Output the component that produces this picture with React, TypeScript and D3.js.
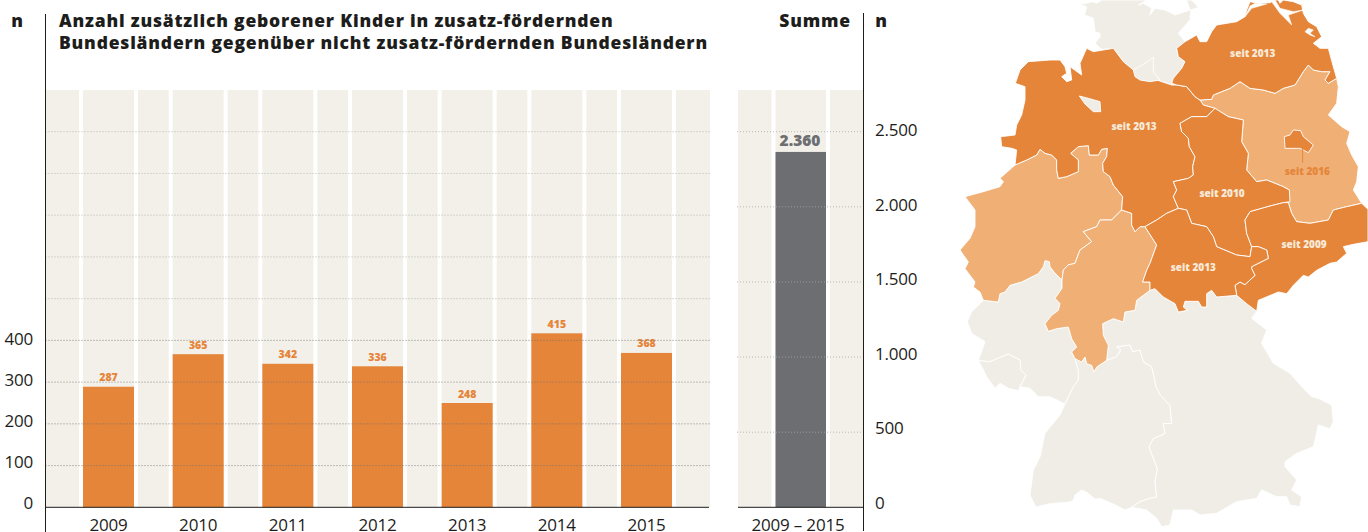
import React from "react";
import * as d3 from "d3";

const years = ["2009", "2010", "2011", "2012", "2013", "2014", "2015"];
const values = [287, 365, 342, 336, 248, 415, 368];
const leftGrid = [100, 200, 300, 400, 500, 600, 700, 800, 900];
const leftTicks = [0, 100, 200, 300, 400];
const totalLabel = "2009 – 2015";
const totalValue = 2360;
const rightTicks = [0, 500, 1000, 1500, 2000, 2500];
const titleLines = [
  "Anzahl zusätzlich geborener Kinder in zusatz-fördernden",
  "Bundesländern gegenüber nicht zusatz-fördernden Bundesländern",
];

type P = [number, number];
const schleswigHolstein: P[] = [[388,12],[410,20],[403,45],[430,55],[435,95],[450,100],[450,110],[435,130],[455,148],[490,145],[520,185],[550,210],[575,240],[620,240],[665,255],[665,250],[670,235],[695,205],[705,185],[685,170],[680,145],[705,125],[685,100],[720,60],[722,30],[745,22],[725,0],[710,0],[720,30],[675,45],[645,30],[615,25],[600,45],[605,25],[580,10],[565,15],[590,0],[455,0],[440,10],[425,5],[410,10]];
const hamburg: P[] = [[550,210],[585,190],[610,172],[610,190],[610,215],[630,240],[600,245],[570,240],[555,230]];
const mecklenburg: P[] = [[665,250],[670,235],[695,205],[705,185],[685,170],[680,145],[705,125],[740,105],[750,125],[770,125],[785,95],[800,75],[860,65],[885,50],[890,30],[900,5],[925,10],[960,8],[975,0],[985,0],[990,10],[1000,0],[1030,5],[1055,15],[1060,40],[1075,65],[1100,80],[1115,110],[1090,130],[1110,145],[1135,145],[1150,200],[1160,235],[1135,250],[1125,240],[1140,215],[1115,215],[1090,210],[1075,195],[1060,215],[1035,255],[1000,265],[975,280],[940,270],[900,265],[870,245],[840,265],[790,285],[785,298],[750,300],[735,290],[710,260],[680,255]];
const niedersachsen: P[] = [[196,250],[210,210],[235,185],[300,180],[330,180],[345,200],[350,220],[335,230],[350,245],[365,240],[360,200],[395,225],[390,190],[410,145],[430,155],[460,150],[490,145],[520,185],[550,210],[575,240],[620,240],[665,255],[680,255],[710,260],[735,290],[750,300],[760,315],[795,325],[770,350],[725,350],[690,370],[695,395],[715,415],[718,440],[735,470],[728,500],[730,525],[715,535],[670,545],[680,570],[670,590],[685,625],[650,640],[620,660],[585,680],[570,680],[555,695],[545,675],[545,640],[515,630],[518,590],[490,555],[480,530],[460,515],[458,490],[470,470],[472,445],[455,448],[445,465],[418,465],[415,437],[385,440],[362,460],[385,480],[385,515],[350,530],[325,535],[320,510],[320,480],[305,465],[285,460],[270,448],[260,465],[230,480],[195,495],[200,450],[185,445],[155,440],[152,410],[195,405],[200,375],[215,345],[225,300],[225,260]];
const bremen: P[] = [[388,288],[415,295],[450,305],[452,335],[430,335],[405,312]];
const brandenburg: P[] = [[790,285],[840,265],[870,245],[900,265],[940,270],[975,280],[1000,265],[1035,255],[1060,215],[1075,195],[1090,210],[1115,215],[1140,215],[1125,240],[1135,250],[1160,235],[1165,260],[1160,310],[1135,345],[1175,380],[1200,395],[1190,430],[1205,465],[1225,500],[1220,545],[1210,570],[1235,610],[1190,620],[1150,630],[1135,660],[1080,670],[1040,665],[1025,640],[1015,608],[1018,570],[1000,560],[950,540],[920,545],[890,510],[895,460],[875,425],[880,360],[835,350],[795,325],[760,315],[750,300],[785,298]];
const berlin: P[] = [[1003,410],[1020,405],[1030,390],[1052,392],[1060,410],[1090,435],[1075,458],[1050,445],[1005,445]];
const sachsenAnhalt: P[] = [[795,325],[835,350],[880,360],[875,425],[895,460],[890,510],[920,545],[950,540],[1000,560],[1018,570],[1020,605],[1000,608],[960,618],[900,635],[885,660],[890,700],[905,740],[900,770],[860,765],[800,740],[790,710],[770,680],[725,670],[710,630],[685,625],[670,590],[680,570],[670,545],[715,535],[730,525],[728,500],[735,470],[718,440],[715,415],[695,395],[690,370],[725,350],[770,350]];
const sachsen: P[] = [[900,635],[960,618],[1000,608],[1015,608],[1025,640],[1040,665],[1080,670],[1135,660],[1150,630],[1190,620],[1235,610],[1254,628],[1254,725],[1210,733],[1180,740],[1190,760],[1160,786],[1140,790],[1100,811],[1075,831],[1060,826],[1030,856],[1010,881],[985,876],[925,901],[920,934],[890,911],[860,886],[855,856],[870,846],[885,854],[915,826],[905,806],[905,800],[955,775],[950,750],[925,740],[905,740],[890,700],[885,660]];
const thueringen: P[] = [[685,625],[710,630],[725,670],[770,680],[790,710],[800,740],[860,765],[900,770],[905,740],[925,740],[950,750],[955,775],[905,800],[905,806],[915,826],[885,854],[870,846],[855,856],[860,886],[800,891],[785,871],[770,881],[770,921],[755,921],[745,904],[705,904],[700,921],[712,931],[685,936],[675,911],[640,891],[615,866],[600,871],[600,846],[578,846],[590,811],[600,790],[620,735],[585,680],[620,660],[650,640]];
const hessen: P[] = [[585,680],[620,735],[600,790],[590,811],[578,846],[600,846],[600,871],[560,901],[555,931],[525,936],[520,966],[490,956],[458,971],[460,1006],[475,1036],[470,1081],[440,1101],[432,1116],[425,1096],[410,1091],[405,1071],[395,1086],[375,1076],[365,1056],[380,1041],[365,1016],[355,981],[320,986],[295,994],[285,971],[305,946],[325,931],[330,911],[315,895],[336,865],[336,840],[340,810],[354,795],[375,790],[390,750],[425,725],[400,695],[440,680],[450,660],[485,660],[515,630],[545,640],[545,675],[555,695],[570,680]];
const nrw: P[] = [[195,495],[230,480],[260,465],[270,448],[285,460],[305,465],[320,480],[320,510],[325,535],[350,530],[385,515],[385,480],[362,460],[385,440],[415,437],[418,465],[445,465],[455,448],[472,445],[470,470],[458,490],[460,515],[480,530],[490,555],[518,590],[515,630],[485,660],[450,660],[440,680],[400,695],[425,725],[390,750],[375,790],[354,795],[340,810],[336,840],[315,820],[300,800],[298,785],[285,782],[280,800],[265,821],[215,846],[180,856],[165,876],[150,881],[145,906],[100,901],[90,876],[70,861],[75,846],[45,806],[55,786],[30,750],[60,715],[75,680],[75,630],[45,590],[100,575],[150,560],[160,545],[150,535]];
const rheinlandPfalz: P[] = [[285,782],[298,785],[300,800],[315,820],[336,840],[336,865],[315,895],[330,911],[325,931],[305,946],[285,971],[295,994],[320,986],[355,981],[365,1016],[380,1041],[365,1056],[375,1076],[385,1110],[385,1140],[370,1160],[345,1212],[300,1190],[265,1190],[240,1165],[210,1160],[228,1125],[212,1110],[210,1080],[175,1062],[120,1085],[85,1082],[105,1025],[65,1000],[52,965],[65,935],[100,901],[145,906],[150,881],[165,876],[180,856],[215,846],[265,821],[280,800]];
const saarland: P[] = [[85,1082],[120,1085],[175,1062],[210,1080],[212,1110],[228,1125],[210,1160],[205,1172],[175,1165],[150,1150],[135,1165],[110,1130],[95,1100]];
const badenWuerttemberg: P[] = [[345,1212],[370,1160],[385,1140],[385,1110],[375,1076],[395,1086],[405,1071],[410,1091],[425,1096],[432,1116],[440,1101],[470,1081],[500,1070],[512,1050],[500,1040],[540,1035],[548,1055],[570,1050],[580,1085],[605,1100],[612,1130],[618,1161],[632,1186],[660,1216],[665,1271],[640,1271],[645,1301],[610,1316],[597,1341],[622,1406],[615,1446],[620,1491],[600,1495],[570,1505],[545,1522],[525,1530],[490,1512],[450,1495],[435,1498],[415,1480],[395,1470],[375,1485],[370,1500],[360,1506],[300,1511],[258,1521],[240,1486],[250,1410],[270,1370],[285,1300],[330,1245]];
const bayern: P[] = [[615,866],[640,891],[675,911],[685,936],[712,931],[700,921],[705,904],[745,904],[755,921],[770,921],[770,881],[785,871],[800,891],[860,886],[890,911],[920,934],[905,955],[950,990],[935,1030],[970,1090],[1020,1120],[1060,1165],[1085,1190],[1105,1195],[1145,1215],[1150,1265],[1140,1286],[1105,1275],[1095,1320],[1090,1340],[1040,1360],[1005,1385],[1005,1400],[1040,1440],[1025,1470],[1055,1490],[1050,1520],[1020,1515],[1010,1490],[980,1490],[935,1470],[920,1495],[860,1505],[800,1540],[750,1545],[725,1530],[670,1530],[660,1575],[635,1580],[620,1555],[590,1530],[545,1522],[570,1505],[600,1495],[620,1491],[615,1446],[622,1406],[597,1341],[610,1316],[645,1301],[640,1271],[665,1271],[660,1216],[632,1186],[618,1161],[612,1130],[605,1100],[580,1085],[570,1050],[548,1055],[540,1035],[500,1040],[512,1050],[500,1070],[470,1081],[475,1036],[460,1006],[458,971],[490,956],[520,966],[525,936],[555,931],[560,901],[600,871]];
const lagoonWest: P[] = [[885,50],[905,25],[950,12],[915,10],[900,18]];
const lagoonRuegen: P[] = [[965,5],[990,40],[1025,75],[1015,45],[1060,30],[1030,35],[990,25],[975,0]];
const lagoonUsedom: P[] = [[1065,95],[1075,85],[1090,90],[1080,100],[1095,110],[1080,105]];
const mapLabels: { t: string; p: P; c: string }[] = [
  { t: "seit 2013", p: [908, 160], c: "w" },
  { t: "seit 2013", p: [552, 379], c: "w" },
  { t: "seit 2010", p: [816, 580], c: "w" },
  { t: "seit 2009", p: [1062, 733], c: "w" },
  { t: "seit 2013", p: [730, 801], c: "w" },
  { t: "seit 2016", p: [1072, 514], c: "o" },
];

const ORANGE = "#e5853a";
const LIGHT = "#f0b075";
const LAND = "#efede6";
const PANEL = "#f3f0e9";
const INK = "#1d1d1b";
const BODY = "'Open Sans', sans-serif";

const baseY = 507.3;
const yLeft = d3.scaleLinear().domain([0, 1000]).range([baseY, 90]);
const yRight = d3.scaleLinear().domain([0, 2500]).range([baseY, 131.7]);
const leftTickText = d3.scaleLinear().domain([0, 400]).range([509, 345]);
const rightTickText = d3.scaleLinear().domain([0, 2500]).range([509, 136]);
const barW = 51;
const xPos = d3.scalePoint<string>().domain(years).range([83, 621]);
const barRise = 0.8;

const mx = d3.scaleLinear().domain([0, 3]).range([950, 951]);
const my = d3.scaleLinear().domain([0, 3]).range([0, 1]);
const line = d3.line<P>().x((d) => mx(d[0])).y((d) => my(d[1])).curve(d3.curveLinearClosed);

const regions: [P[], string][] = [
  [schleswigHolstein, LAND],
  [rheinlandPfalz, LAND],
  [saarland, LAND],
  [badenWuerttemberg, LAND],
  [bayern, LAND],
  [nrw, LIGHT],
  [hessen, LIGHT],
  [brandenburg, LIGHT],
  [niedersachsen, ORANGE],
  [mecklenburg, ORANGE],
  [sachsenAnhalt, ORANGE],
  [sachsen, ORANGE],
  [thueringen, ORANGE],
  [berlin, ORANGE],
  [hamburg, LAND],
  [bremen, LAND],
];
const waters = [lagoonWest, lagoonRuegen, lagoonUsedom];

export default function App() {
  const gridCol = (v: number) => (v <= 400 ? "#6f6f6f" : "#a9a8a3");
  const x = (y: string) => xPos(y) as number;
  return (
    <svg width={1368} height={532} style={{ position: "absolute", left: 0, top: 0, display: "block", background: "#fff" }}>
      <rect x={45.5} y={90} width={664.5} height={baseY - 90} fill={PANEL} />
      <rect x={738} y={90} width={125} height={baseY - 90} fill={PANEL} />
      {years.map((y) => (
        <g key={y}>
          <rect x={x(y) - 4} y={90} width={4} height={baseY - 90} fill="#fff" />
          <rect x={x(y) + barW} y={90} width={4} height={baseY - 90} fill="#fff" />
        </g>
      ))}
      <rect x={771.5} y={90} width={4} height={baseY - 90} fill="#fff" />
      <rect x={826} y={90} width={4} height={baseY - 90} fill="#fff" />

      {years.map((y, i) => {
        const top = yLeft(values[i]) - barRise;
        return (
          <g key={y}>
            <rect x={x(y)} y={top} width={barW} height={baseY - top} fill={ORANGE} />
            <text x={x(y) + barW / 2} y={top - 5.5} textAnchor="middle" fontFamily={BODY} fontWeight={800} fontSize={10.5} fill={ORANGE}>{values[i]}</text>
            <text x={x(y) + barW / 2} y={531} textAnchor="middle" fontFamily={BODY} fontSize={17} letterSpacing={-0.2} fill={INK}>{y}</text>
          </g>
        );
      })}
      <rect x={775.5} y={yRight(totalValue) - barRise} width={50.5} height={baseY - yRight(totalValue) + barRise} fill="#6d6e71" />
      <text x={800} y={146} textAnchor="middle" fontFamily={BODY} fontWeight={800} fontSize={15.5} fill="#6d6e71">{d3.format(",")(totalValue).replace(",", ".")}</text>
      <text x={798} y={531} textAnchor="middle" fontFamily={BODY} fontSize={17} letterSpacing={-0.2} fill={INK}>{totalLabel}</text>

      {leftGrid.map((v) => (
        <line key={v} x1={45.5} x2={710} y1={yLeft(v)} y2={yLeft(v)} stroke={gridCol(v)} strokeWidth={0.8} strokeDasharray="1 2" />
      ))}
      {rightTicks.slice(1).map((v) => (
        <line key={v} x1={737} x2={863} y1={yRight(v)} y2={yRight(v)} stroke="#a9a8a3" strokeWidth={0.8} strokeDasharray="1 2" />
      ))}

      <line x1={45.5} x2={45.5} y1={14} y2={532} stroke={INK} strokeWidth={1} />
      <line x1={863.5} x2={863.5} y1={13} y2={531} stroke={INK} strokeWidth={1} />
      <line x1={45.5} x2={709} y1={baseY} y2={baseY} stroke={INK} strokeWidth={1} />
      <line x1={738} x2={863} y1={baseY} y2={baseY} stroke={INK} strokeWidth={1} />

      {leftTicks.map((v) => (
        <text key={v} x={33} y={leftTickText(v)} textAnchor="end" fontFamily={BODY} fontSize={17} letterSpacing={-0.2} fill={INK}>{v}</text>
      ))}
      {rightTicks.map((v) => (
        <text key={v} x={875} y={rightTickText(v)} fontFamily={BODY} fontSize={17} letterSpacing={-0.2} fill={INK}>{d3.format(",")(v).replace(",", ".")}</text>
      ))}

      <g fontFamily={BODY} fontWeight={800} fontSize={17.5} fill={INK}>
        <text x={17} y={27} textAnchor="middle">n</text>
        <text x={881} y={27} textAnchor="middle">n</text>
        <text x={851} y={27} textAnchor="end" letterSpacing={0.8}>Summe</text>
        {titleLines.map((t, i) => (
          <text key={i} x={59} y={27 + i * 22} letterSpacing={0.8}>{t}</text>
        ))}
      </g>

      <g strokeLinejoin="round">
        {regions.map(([pts, fill], i) => (
          <path key={i} d={line(pts) ?? ""} fill={fill} stroke="#fff" strokeWidth={0.9} />
        ))}
        {waters.map((pts, i) => (
          <path key={i} d={line(pts) ?? ""} fill="#fff" stroke="#fff" strokeWidth={0.6} />
        ))}
      </g>
      <line x1={mx(1058)} x2={mx(1058)} y1={my(445)} y2={my(488)} stroke={ORANGE} strokeWidth={1} />
      {mapLabels.map((l, i) => (
        <text key={i} x={mx(l.p[0])} y={my(l.p[1]) + 3.5} textAnchor="middle" fontFamily={BODY} fontWeight={800} fontSize={10} fill={l.c === "w" ? "#f8ead9" : ORANGE}>{l.t}</text>
      ))}
    </svg>
  );
}
